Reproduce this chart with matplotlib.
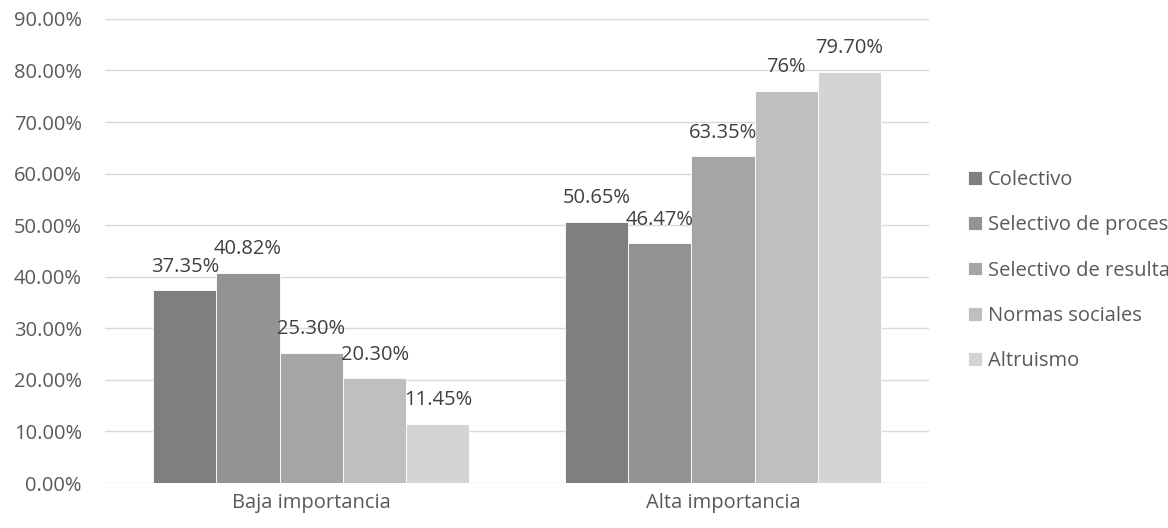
import numpy as np
import matplotlib
matplotlib.use('Agg')
import matplotlib.pyplot as plt
from matplotlib.ticker import FuncFormatter

plt.rcParams['font.family'] = ['Open Sans', 'DejaVu Sans']

categories = ['Baja importancia', 'Alta importancia']
series = ['Colectivo', 'Selectivo de procesos', 'Selectivo de resultados',
          'Normas sociales', 'Altruismo']
values = [
    [37.35, 50.65],
    [40.82, 46.47],
    [25.30, 63.35],
    [20.30, 76.00],
    [11.45, 79.70],
]
labels = [
    ['37.35%', '50.65%'],
    ['40.82%', '46.47%'],
    ['25.30%', '63.35%'],
    ['20.30%', '76%'],
    ['11.45%', '79.70%'],
]
colors = ['#7f7f7f', '#939393', '#a5a5a5', '#bfbfbf', '#d4d4d4']

fs = 14.5

fig = plt.figure(figsize=(11.68, 5.28), dpi=100)
ax = fig.add_axes([0.0903, 0.0852, 0.705, 0.879])

x = np.arange(len(categories))
w = 0.1536
for i, (name, vals, labs, col) in enumerate(zip(series, values, labels, colors)):
    pos = x + (i - 2) * w
    bars = ax.bar(pos, vals, w, color=col, edgecolor='white', linewidth=0.6,
                  label=name, zorder=2)
    for b, lab in zip(bars, labs):
        ax.annotate(lab, (b.get_x() + b.get_width() / 2, b.get_height()),
                    xytext=(0, 17), textcoords='offset points',
                    ha='center', va='center', fontsize=fs, color='#404040')

ax.set_xlim(-0.5, 1.5)
ax.set_ylim(0, 90)
ax.set_yticks(np.arange(0, 91, 10))
ax.yaxis.set_major_formatter(FuncFormatter(lambda v, p: '%.2f%%' % v))
ax.set_xticks(x)
ax.set_xticklabels(categories)
ax.grid(axis='y', color='#d9d9d9', linewidth=1, zorder=0)
ax.set_axisbelow(True)
for s in ax.spines.values():
    s.set_visible(False)
ax.tick_params(axis='both', length=0, labelsize=fs, labelcolor='#595959')
ax.tick_params(axis='y', pad=17)
ax.tick_params(axis='x', pad=7)

# legend runs past the right edge, as in the source chart
fig.legend(loc='upper left', bbox_to_anchor=(0.8135, 0.712), frameon=False,
           handlelength=0.68, handleheight=0.68, handletextpad=0.3,
           labelspacing=1.25, fontsize=fs, labelcolor='#595959')

fig.savefig('out.png', dpi=100)
